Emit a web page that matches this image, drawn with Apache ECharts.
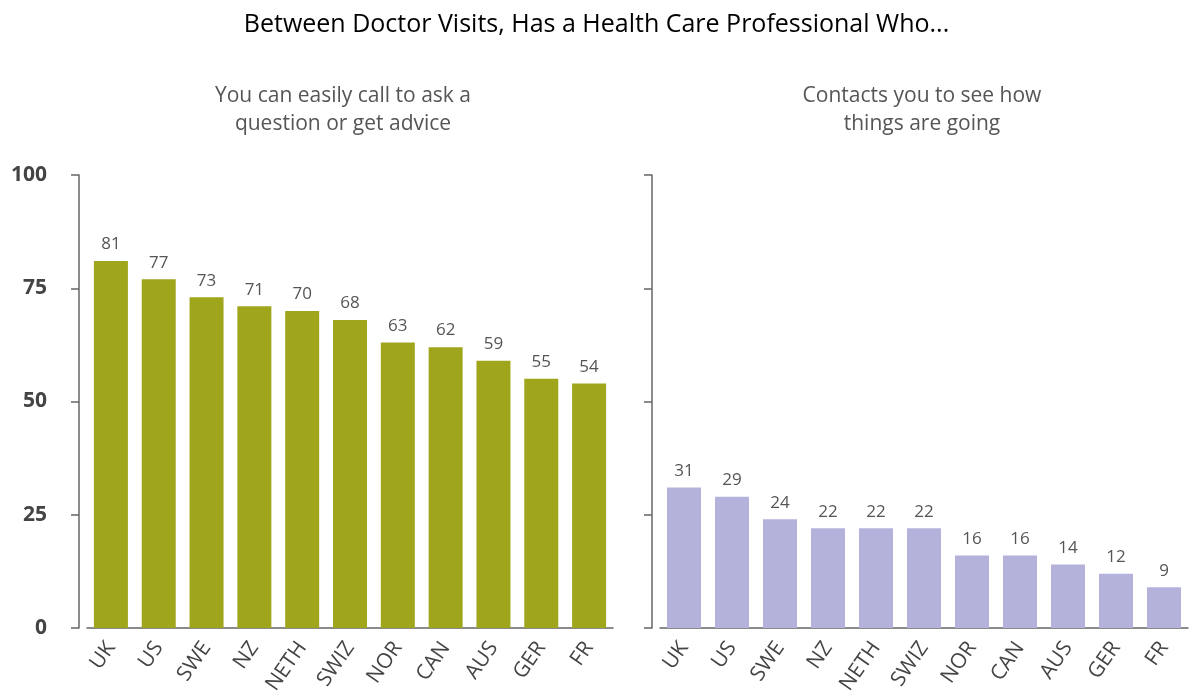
<!DOCTYPE html>
<html><head><meta charset="utf-8">
<script src="https://cdn.jsdelivr.net/npm/echarts@6/dist/echarts.min.js"></script>
<style>html,body{margin:0;padding:0;background:#fff}#c{width:1193px;height:700px}</style>
</head><body><div id="c"></div>
<script>
const categories = ['UK','US','SWE','NZ','NETH','SWIZ','NOR','CAN','AUS','GER','FR'];
const callValues = [81,77,73,71,70,68,63,62,59,55,54];
const contactValues = [31,29,24,22,22,22,16,16,14,12,9];
const yTicks = [0,25,50,75,100];
const titleText = 'Between Doctor Visits, Has a Health Care Professional Who...';
const subLeft = 'You can easily call to ask a\nquestion or get advice';
const subRight = 'Contacts you to see how\nthings are going';

const FONT = "'Open Sans', 'DejaVu Sans', sans-serif";
const chart = echarts.init(document.getElementById('c'));
function xAx(idx){
  return {type:'category', gridIndex:idx, data:categories,
    axisLine:{lineStyle:{color:'#666',width:1.5}}, axisTick:{show:false},
    axisLabel:{rotate:55, color:'#444', fontSize:21, fontFamily:FONT, margin:16}};
}
function yAx(idx, showLabels){
  return {type:'value', gridIndex:idx, min:0, max:100, interval:25, offset:8,
    axisLine:{show:true, lineStyle:{color:'#666',width:1.5}},
    axisTick:{show:true, inside:false, length:8, lineStyle:{color:'#666',width:1.5}},
    splitLine:{show:false},
    axisLabel:{show:showLabels, color:'#444', fontSize:21, fontWeight:'bold', fontFamily:FONT, margin:32}};
}
const lbl = {show:true, position:'top', distance:8, color:'#555', fontSize:17, fontFamily:FONT};
chart.setOption({
  animation:false,
  title:[
    {text:titleText, left:'center', top:7, textStyle:{fontSize:25, fontWeight:500, color:'#000', fontFamily:FONT}},
    {text:subLeft, left:338, textAlign:'center', top:77, textStyle:{fontSize:21, fontWeight:'normal', color:'#555', fontFamily:FONT, lineHeight:28}},
    {text:subRight, left:917, textAlign:'center', top:77, textStyle:{fontSize:21, fontWeight:'normal', color:'#555', fontFamily:FONT, lineHeight:28}}
  ],
  grid:[
    {left:87, width:526, top:175, height:453},
    {left:660, width:528, top:175, height:453}
  ],
  xAxis:[xAx(0), xAx(1)],
  yAxis:[yAx(0,true), yAx(1,false)],
  series:[
    {type:'bar', xAxisIndex:0, yAxisIndex:0, data:callValues, barWidth:34, itemStyle:{color:'#A0A61C'}, label:lbl},
    {type:'bar', xAxisIndex:1, yAxisIndex:1, data:contactValues, barWidth:34, itemStyle:{color:'#B4B2DA'}, label:lbl}
  ]
});
</script></body></html>
